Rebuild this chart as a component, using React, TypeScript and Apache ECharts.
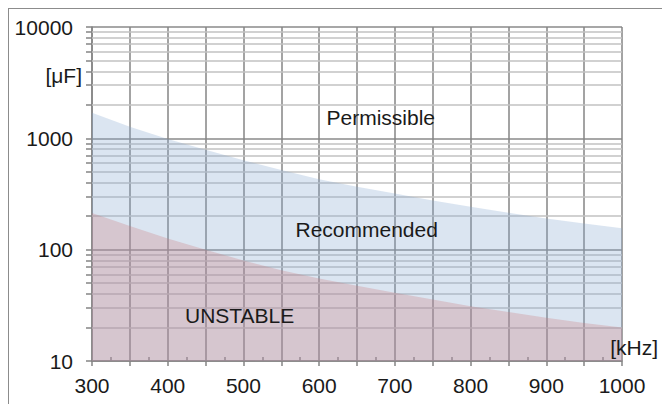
import React, { useEffect, useRef } from "react";
import * as echarts from "echarts";

// Frequency grid (kHz)
const freqs = [300, 350, 400, 450, 500, 550, 600, 650, 700, 750, 800, 850, 900, 950, 1000];
// Upper boundary of the "Recommended" region (µF)
const permissibleLimit = [1700, 1270, 986, 790, 635, 519, 430, 368, 319, 276, 243, 215, 191, 172, 156];
// Upper boundary of the "UNSTABLE" region (µF)
const unstableLimit = [214, 163, 126, 100, 80, 65.5, 55, 47.5, 41, 35.7, 31, 27.6, 24.4, 22, 20];
// log axis decades and minor gridline multipliers
const decades = [10, 100, 1000];
const minorMultipliers = [2, 3, 4, 5, 6, 7, 8, 9];

const FONT = "'Liberation Sans', Arial, sans-serif";
const TEXT_COLOR = "#1a1a1a";

export default function App() {
  const ref = useRef<HTMLDivElement>(null);
  useEffect(() => {
    if (!ref.current) return;
    const chart = echarts.init(ref.current, undefined, { renderer: "svg" });
    const gridLeft = 83;
    const minorValues: number[] = [];
    decades.forEach((d) => minorMultipliers.forEach((m) => minorValues.push(d * m)));

    const minorLines = minorValues.map((v) => [
      { xAxis: 300, yAxis: v },
      { xAxis: 1000, yAxis: v },
    ]);
    const minorTicks = minorValues.map((v) => [
      { x: gridLeft - 6, yAxis: v },
      { xAxis: 300, yAxis: v },
    ]);

    const textStyle = { font: `21px ${FONT}`, fill: TEXT_COLOR };

    chart.setOption({
      animation: false,
      backgroundColor: "#ffffff",
      grid: { left: gridLeft, top: 18, right: 48, bottom: 43, containLabel: false },
      xAxis: {
        type: "value",
        min: 300,
        max: 1000,
        interval: 50,
        axisLine: { show: true, lineStyle: { color: "#848484", width: 1.5 } },
        axisTick: { show: true, length: 5, lineStyle: { color: "#848484", width: 1.5 } },
        minorTick: { show: true, splitNumber: 2, length: -4, lineStyle: { color: "#848484", width: 1.5 } },
        axisLabel: {
          margin: 14,
          fontSize: 21,
          fontFamily: FONT,
          color: TEXT_COLOR,
          showMaxLabel: true,
          showMinLabel: true,
          formatter: (v: number) => (v % 100 === 0 ? String(v) : ""),
        },
        splitLine: { show: true, lineStyle: { color: "#848484", width: 1.5 } },
      },
      yAxis: {
        type: "log",
        logBase: 10,
        min: 10,
        max: 10000,
        axisLine: { show: true, lineStyle: { color: "#848484", width: 1.5 } },
        axisTick: { show: true, length: 6, lineStyle: { color: "#848484", width: 1.5 } },
        axisLabel: {
          margin: 19,
          fontSize: 21,
          fontFamily: FONT,
          color: TEXT_COLOR,
          formatter: (v: number) => String(v),
        },
        splitLine: { show: true, lineStyle: { color: "#8a8a8a", width: 1.5 } },
      },
      series: [
        {
          type: "line",
          data: [],
          z: 1,
          clip: false,
          silent: true,
          markLine: {
            z: 1,
            silent: true,
            symbol: ["none", "none"],
            label: { show: false },
            lineStyle: { color: "#c2c2c2", type: "solid", width: 1.5 },
            data: minorLines,
          },
        },
        {
          type: "line",
          data: [],
          z: 1,
          clip: false,
          silent: true,
          markLine: {
            z: 1,
            silent: true,
            symbol: ["none", "none"],
            label: { show: false },
            lineStyle: { color: "#848484", type: "solid", width: 1.5 },
            data: minorTicks,
          },
        },
        {
          name: "Permissible limit",
          type: "line",
          z: 2,
          data: freqs.map((f, i) => [f, permissibleLimit[i]]),
          showSymbol: false,
          symbol: "none",
          smooth: false,
          lineStyle: { width: 0 },
          areaStyle: { origin: "start", color: "rgb(135,168,208)", opacity: 0.3 },
          silent: true,
        },
        {
          name: "Unstable limit",
          type: "line",
          z: 3,
          data: freqs.map((f, i) => [f, unstableLimit[i]]),
          showSymbol: false,
          symbol: "none",
          smooth: false,
          lineStyle: { width: 0 },
          areaStyle: { origin: "start", color: "rgb(202,126,128)", opacity: 0.3 },
          silent: true,
        },
      ],
      graphic: [
        {
          type: "text",
          z: 100,
          right: 661 - 73,
          top: 56,
          style: { text: "[μF]", ...textStyle },
        },
        {
          type: "text",
          z: 100,
          left: 371.5 - 54,
          top: 98,
          style: { text: "Permissible", ...textStyle },
        },
        {
          type: "text",
          z: 100,
          left: 357.5 - 71,
          top: 210,
          style: { text: "Recommended", ...textStyle },
        },
        {
          type: "text",
          z: 100,
          left: 231 - 55,
          top: 296,
          style: { text: "UNSTABLE", ...textStyle },
        },
        {
          type: "text",
          z: 100,
          right: 661 - 649,
          top: 328,
          style: { text: "[kHz]", ...textStyle },
        },
      ],
    });
    return () => chart.dispose();
  }, []);

  return (
    <div
      style={{
        width: 661,
        height: 395,
        borderTop: "1px solid #8c8c8c",
        borderLeft: "1px solid #8c8c8c",
        overflow: "hidden",
      }}
    >
      <div ref={ref} style={{ width: 661, height: 395 }} />
    </div>
  );
}
